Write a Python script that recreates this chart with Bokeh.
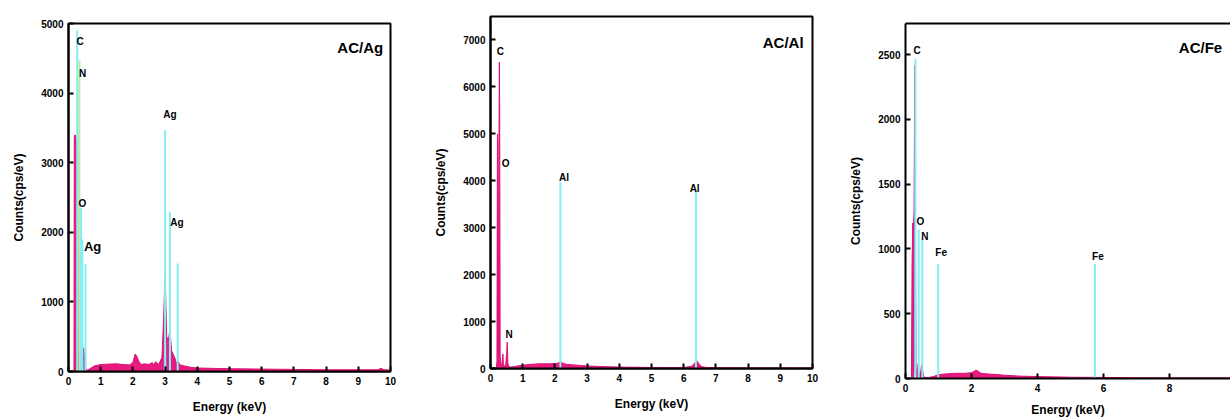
from bokeh.plotting import figure
from bokeh.models import LinearAxis, FixedTicker, Range1d
from bokeh.core.properties import value
from bokeh.core.templates import get_env
from bokeh.embed import file_html
from bokeh.resources import INLINE

# ---------------- Panel 1 : AC/Ag ----------------
ag_energy = [0, 0.17, 0.18, 0.20, 0.22, 0.24, 0.255, 0.265, 0.28, 0.30, 0.32, 0.35, 0.37, 0.40, 0.43,
             0.47, 0.50, 0.53, 0.56, 0.60, 0.70, 0.80, 1.00, 1.20, 1.50, 1.70, 1.90, 2.00, 2.07, 2.12,
             2.18, 2.25, 2.35, 2.50, 2.60, 2.65, 2.70, 2.80, 2.90, 2.95, 3.00, 3.05, 3.10, 3.15, 3.20,
             3.25, 3.30, 3.35, 3.40, 3.45, 3.50, 3.60, 3.80, 4.00, 4.50, 5.00, 6.00, 7.00, 8.00, 9.00,
             9.60, 9.70, 9.80, 10.0]
ag_counts = [0, 0, 3380, 3400, 3380, 3350, 3300, 900, 4700, 300, 90, 330, 120, 60, 80,
             340, 120, 60, 30, 20, 50, 80, 100, 105, 110, 100, 95, 130, 250, 220,
             150, 100, 110, 100, 130, 90, 140, 100, 200, 700, 1400, 500, 450, 600, 300,
             250, 200, 120, 150, 100, 90, 80, 60, 50, 45, 40, 35, 30, 25, 25,
             25, 45, 25, 20]
ag_overlay_energy = [0.255, 0.27, 0.285, 0.30, 0.34, 0.36, 0.38, 0.46, 0.49, 0.52,
                     2.95, 2.99, 3.02, 3.06, 3.12, 3.15, 3.19]
ag_overlay_counts = [0, 4850, 4800, 0, 0, 330, 0, 0, 350, 0,
                     0, 1380, 600, 0, 0, 580, 0]
ag_line_energy = [0.27, 0.34, 0.39, 0.43, 0.53, 3.00, 3.15, 3.39]
ag_line_height = [4900, 4470, 2350, 1900, 1540, 3470, 2290, 1550]
ag_label_text = ["C", "N", "O", "Ag", "Ag"]
ag_label_x = [0.36, 0.44, 0.43, 3.15, 3.37]
ag_label_y = [4745, 4280, 2416, 3690, 2137]
ag_big_label = ["Ag"]
ag_big_x = [0.75]
ag_big_y = [1791]

# ---------------- Panel 2 : AC/Al ----------------
al_energy = [0, 0.18, 0.20, 0.215, 0.23, 0.245, 0.26, 0.275, 0.285, 0.30, 0.33, 0.36, 0.385, 0.40,
             0.43, 0.47, 0.50, 0.52, 0.54, 0.57, 0.62, 0.70, 0.80, 1.00, 1.20, 1.50, 1.80, 2.00,
             2.10, 2.18, 2.25, 2.35, 2.50, 2.80, 3.00, 3.50, 4.00, 5.00, 6.00, 6.25, 6.35, 6.40,
             6.45, 6.55, 6.70, 7.00, 7.20, 8.00, 9.00, 10.0]
al_counts = [0, 0, 150, 5000, 4800, 300, 4200, 6530, 5500, 250, 100, 80, 310, 100,
             50, 60, 300, 560, 100, 40, 30, 35, 50, 70, 85, 100, 100, 105,
             115, 140, 110, 90, 80, 65, 55, 40, 30, 22, 20, 50, 120, 170,
             120, 40, 22, 20, 15, 12, 10, 8]
al_line_energy = [2.17, 6.38]
al_line_height = [3970, 3800]
al_label_text = ["C", "O", "Al", "Al", "N"]
al_label_x = [0.31, 0.47, 2.28, 6.34, 0.58]
al_label_y = [6744, 4365, 4079, 3844, 718]

# ---------------- Panel 3 : AC/Fe ----------------
fe_energy = [0, 0.18, 0.20, 0.22, 0.24, 0.26, 0.28, 0.30, 0.32, 0.35, 0.38, 0.41, 0.45, 0.49,
             0.52, 0.55, 0.60, 0.70, 0.85, 1.00, 1.20, 1.50, 1.80, 2.00, 2.08, 2.14, 2.20,
             2.30, 2.50, 2.80, 3.00, 3.50, 4.00, 5.00, 6.00, 7.00, 8.00, 9.00, 10.0]
fe_counts = [0, 0, 900, 1200, 1150, 1300, 2420, 1100, 80, 30, 110, 40, 25, 110,
             60, 15, 8, 8, 15, 30, 35, 40, 40, 45, 55, 65, 55,
             40, 35, 30, 25, 18, 15, 10, 8, 6, 5, 5, 5]
fe_overlay_energy = [0.255, 0.27, 0.285, 0.30, 0.315]
fe_overlay_counts = [0, 1600, 2460, 1200, 0]
fe_cyan_energy = [0.25, 0.28, 0.31, 0.37, 0.40, 0.43, 0.49, 0.52, 0.55]
fe_cyan_counts = [0, 70, 0, 0, 60, 0, 0, 60, 0]
fe_line_energy = [0.30, 0.40, 0.51, 0.99, 5.74]
fe_line_height = [2467, 1150, 1080, 885, 885]
fe_label_text = ["C", "O", "N", "Fe", "Fe"]
fe_label_x = [0.35, 0.45, 0.59, 1.08, 5.83]
fe_label_y = [2531, 1214, 1096, 975, 944]

titles = ["AC/Ag", "AC/Al", "AC/Fe"]
title_x = [9.06, 9.09, 8.94]
title_y = [4650, 6936, 2556]

PINK = "#e91a80"
PINK_EDGE = "#dc1274"
PURPLE = "#9a6ccc"
CYAN = "#84eef2"
GREEN = "#b4f0a4"
FONT = "Liberation Sans"


def style_axis(a):
    a.axis_line_width = 2
    a.axis_line_color = "black"
    a.major_tick_in = 5
    a.major_tick_out = 0
    a.major_tick_line_width = 2
    a.minor_tick_line_color = None
    a.major_label_text_font = FONT
    a.major_label_text_font_style = "bold"
    a.major_label_text_font_size = "10px"
    a.major_label_text_color = "black"
    a.axis_label_text_font = FONT
    a.axis_label_text_font_style = "bold"
    a.axis_label_text_font_size = "12px"
    a.axis_label_text_color = "black"
    a.major_label_standoff = 5
    a.axis_label_standoff = 12


def make_panel(width, height, xr, yr, xticks, yticks, left, right, top, bottom, open_right=False,
               xlabel_standoff=12):
    p = figure(width=width, height=height, x_range=Range1d(*xr), y_range=Range1d(*yr),
               output_backend="svg", toolbar_location=None,
               min_border_left=left, min_border_right=right,
               min_border_top=top, min_border_bottom=bottom,
               background_fill_color="white", border_fill_color="white")
    p.grid.visible = False
    xa = p.below[0]
    ya = p.left[0]
    style_axis(xa)
    style_axis(ya)
    xa.ticker = FixedTicker(ticks=xticks)
    ya.ticker = FixedTicker(ticks=yticks)
    xa.axis_label = "Energy (keV)"
    ya.axis_label = "Counts(cps/eV)"
    xa.axis_label_standoff = xlabel_standoff
    if open_right:
        p.outline_line_color = None
        ax = LinearAxis(ticker=FixedTicker(ticks=[]), major_label_text_font_size="0px",
                        major_tick_line_color=None, minor_tick_line_color=None,
                        axis_line_width=2, axis_line_color="black",
                        major_label_standoff=0, major_tick_in=0, major_tick_out=0)
        p.add_layout(ax, "above")
    else:
        p.outline_line_color = "black"
        p.outline_line_width = 2
    return p


def add_spectrum(p, e, c):
    p.varea(x=e, y1=0, y2=c, fill_color=PINK, fill_alpha=1.0)
    p.line(x=e, y=c, line_color=PINK_EDGE, line_width=1)


def add_lines(p, e, h, color=CYAN):
    p.segment(x0=e, y0=[0] * len(e), x1=e, y1=h, line_color=color, line_width=2)


def add_labels(p, t, x, y, size="10px"):
    p.text(x=x, y=y, text=t, text_font=value(FONT), text_font_style="bold",
           text_font_size=size, text_align="center", text_baseline="middle", text_color="black")


# Panel 1
p1 = make_panel(420, 419, (0, 10), (0, 5000), list(range(0, 11)), [0, 1000, 2000, 3000, 4000, 5000],
                68, 30, 23, 48)
add_spectrum(p1, ag_energy, ag_counts)
p1.varea(x=ag_overlay_energy, y1=0, y2=ag_overlay_counts, fill_color=PURPLE, fill_alpha=0.9)
add_lines(p1, [ag_line_energy[0]], [ag_line_height[0]])
add_lines(p1, [ag_line_energy[1]], [ag_line_height[1]], GREEN)
add_lines(p1, ag_line_energy[2:], ag_line_height[2:])
add_labels(p1, ag_label_text, ag_label_x, ag_label_y)
add_labels(p1, ag_big_label, ag_big_x, ag_big_y, "13px")
add_labels(p1, [titles[0]], [title_x[0]], [title_y[0]], "15px")

# Panel 2
p2 = make_panel(420, 419, (0, 10), (0, 7500), list(range(0, 11)),
                [0, 1000, 2000, 3000, 4000, 5000, 6000, 7000], 70, 28, 16, 51)
add_spectrum(p2, al_energy, al_counts)
add_lines(p2, al_line_energy, al_line_height)
add_labels(p2, al_label_text, al_label_x, al_label_y)
add_labels(p2, [titles[1]], [title_x[1]], [title_y[1]], "15px")

# Panel 3
p3 = make_panel(390, 419, (0, 9.85), (0, 2740), [0, 2, 4, 6, 8], [0, 500, 1000, 1500, 2000, 2500],
                65, 0, 23, 41, open_right=True, xlabel_standoff=8)
add_spectrum(p3, fe_energy, fe_counts)
p3.varea(x=fe_overlay_energy, y1=0, y2=fe_overlay_counts, fill_color=PURPLE, fill_alpha=0.9)
p3.varea(x=fe_cyan_energy, y1=0, y2=fe_cyan_counts, fill_color=CYAN, fill_alpha=1.0)
add_lines(p3, fe_line_energy, fe_line_height)
add_labels(p3, fe_label_text, fe_label_x, fe_label_y)
add_labels(p3, [titles[2]], [title_x[2]], [title_y[2]], "15px")

# Independent roots laid side by side (no frame alignment between panels)
page_template = get_env().from_string(
    '{% extends "file.html" %}'
    '{% block postamble %}<style>html,body{margin:0;padding:0;overflow:hidden;background:#fff;}'
    'body{display:flex;flex-direction:row;align-items:flex-start;}</style>{% endblock %}'
)

p = (p1, p2, p3)
open("out.html", "w").write(file_html(p, INLINE, template=page_template))
